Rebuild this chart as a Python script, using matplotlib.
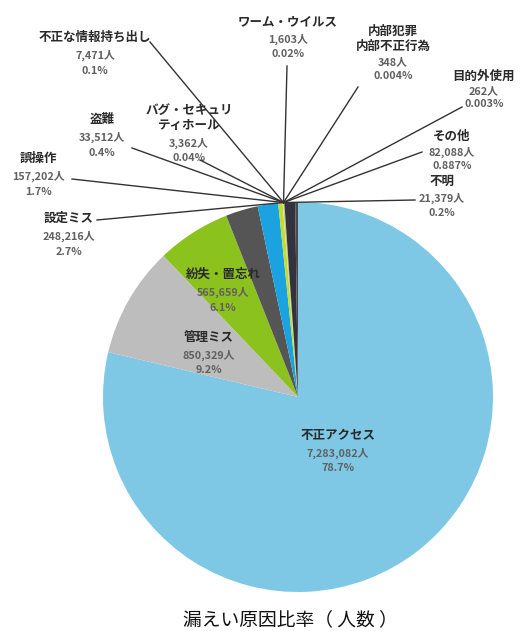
#!/usr/bin/env python3

import matplotlib
matplotlib.use("Agg")
from matplotlib import pyplot as plt
import numpy as np

plt.rcParams['font.family'] = ['Noto Sans CJK JP', 'DejaVu Sans']

# clockwise from 12 o'clock
causes = ["不正アクセス", "管理ミス", "紛失・置忘れ", "設定ミス", "誤操作", "盗難",
          "バグ・セキュリ\nティホール", "不正な情報持ち出し", "ワーム・ウイルス",
          "内部犯罪\n内部不正行為", "目的外使用", "その他", "不明"]
people = [7283082, 850329, 565659, 248216, 157202, 33512,
          3362, 7471, 1603, 348, 262, 82088, 21379]
shares = ["78.7%", "9.2%", "6.1%", "2.7%", "1.7%", "0.4%",
          "0.04%", "0.1%", "0.02%", "0.004%", "0.003%", "0.887%", "0.2%"]
colors = ["#7ec8e6", "#bdbdbd", "#8cc21e", "#555555", "#1aa3e0", "#c6dc2c",
          "#e6ecc0", "#b9c77a", "#9a9a9a", "#d0d0d0", "#777777", "#333340", "#4a4a4a"]

W, H = 525, 631
fig = plt.figure(figsize=(W / 100, H / 100), dpi=100)
ax = fig.add_axes([0, 0, 1, 1])

cx, cy, r = 298, H - 397, 195
wedges, _ = ax.pie(people, colors=colors, startangle=90, counterclock=False,
                   center=(cx, cy), radius=r, frame=True)
ax.set_xlim(0, W)
ax.set_ylim(0, H)
ax.set_aspect("equal")
ax.axis("off")

# all leader lines meet at the rim of the small wedges
w = wedges[causes.index("不正な情報持ち出し")]
a = np.deg2rad((w.theta1 + w.theta2) / 2)
anchor = (cx + r * np.cos(a), cy + r * np.sin(a))

# label layout in pixels from top: (x centre, y of first line, line step, leader start)
layout = {
    "不正アクセス": (338, 436, 16, None),
    "管理ミス": (209, 338, 16, None),
    "紛失・置忘れ": (223, 274, 17, None),
    "設定ミス": (69, 218, 17, (97, 220)),
    "誤操作": (38, 158, 17, (72, 179)),
    "盗難": (102, 119, 17, (132, 148)),
    "バグ・セキュリ\nティホール": (189, 110, 16, (200, 160)),
    "不正な情報持ち出し": (95, 37, 17, (150, 42)),
    "ワーム・ウイルス": (288, 22, 16, (287, 66)),
    "内部犯罪\n内部不正行為": (393, 31, 15, (358, 87)),
    "目的外使用": (484, 76, 14, (462, 107)),
    "その他": (452, 136, 15, (422, 152)),
    "不明": (442, 181, 16, (415, 200)),
}

for name, n, pct in zip(causes, people, shares):
    x, y, step, start = layout[name]
    lines = name.split("\n")
    for i, ln in enumerate(lines):
        ax.text(x, H - (y + i * step), ln, ha="center", va="center",
                fontsize=9, fontweight="bold", color="#2a2a2a")
    k = len(lines)
    ax.text(x, H - (y + k * step + 1), f"{n:,}人", ha="center", va="center",
            fontsize=7.8, fontweight="bold", color="#606060")
    ax.text(x, H - (y + (k + 1) * step), pct, ha="center", va="center",
            fontsize=7.8, fontweight="bold", color="#606060")
    if start is not None:
        ax.plot([start[0], anchor[0]], [H - start[1], anchor[1]],
                color="#333333", lw=1.0, zorder=5)

ax.text(290, H - 620, "漏えい原因比率（ 人数 ）", ha="center", va="center",
        fontsize=13.5, color="#111111")

fig.savefig("out.png", dpi=100)
